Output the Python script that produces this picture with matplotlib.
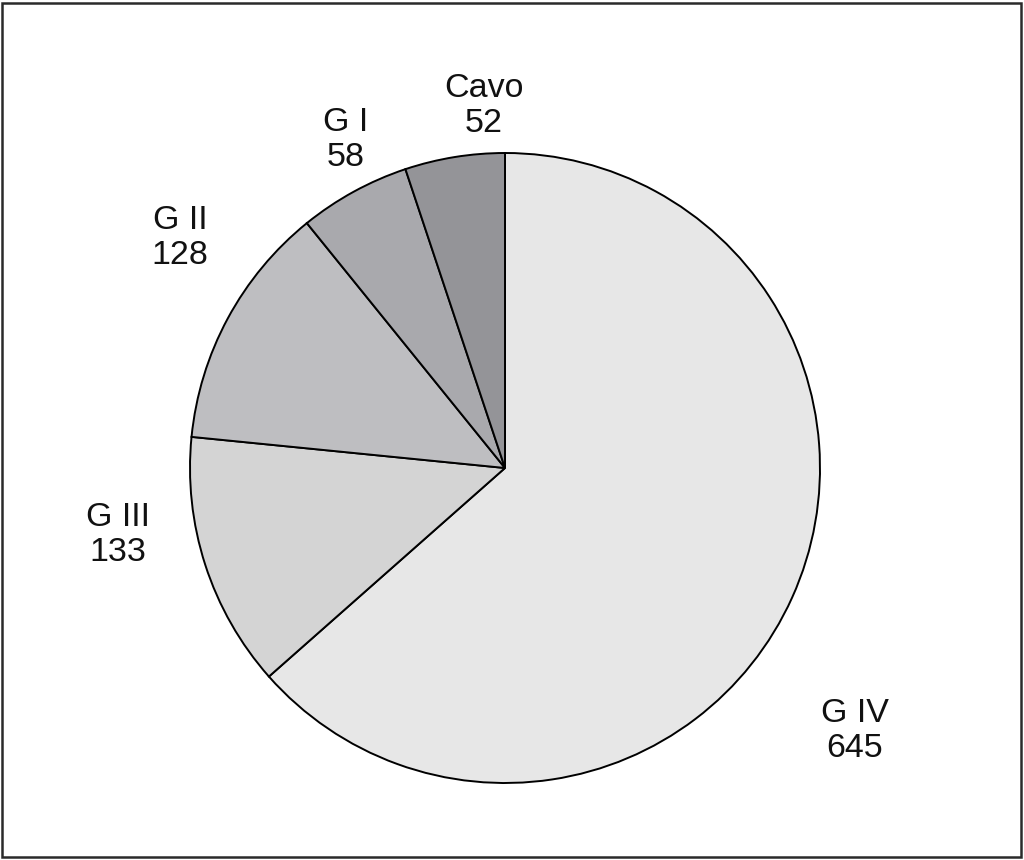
import matplotlib.pyplot as plt
from matplotlib.patches import Rectangle

labels = ['G IV', 'G III', 'G II', 'G I', 'Cavo']
values = [645, 133, 128, 58, 52]
colors = ['#e7e7e7', '#d4d4d4', '#bebec1', '#a9a9ad', '#949498']

# label centres in pixel coordinates of the 1024x860 image
label_px = [(855, 731), (118, 535), (180, 238), (346, 140), (484, 106)]

W, H = 1024, 860
cx, cy, R = 505, 468, 315

fig = plt.figure(figsize=(W / 100, H / 100), dpi=100)
ax = fig.add_axes([0, 0, 1, 1])
ax.pie(values, colors=colors, startangle=90, counterclock=False, radius=1,
       wedgeprops=dict(edgecolor='black', linewidth=1.4))
ax.set_xlim(-cx / R, (W - cx) / R)
ax.set_ylim(-(H - cy) / R, cy / R)
ax.set_aspect('equal')
ax.axis('off')

for lab, v, (px, py) in zip(labels, values, label_px):
    ax.text((px - cx) / R, (cy - py) / R, f'{lab}\n{v}', ha='center', va='center',
            fontsize=24.5, family='Liberation Sans', linespacing=1.18, color='#111111')

fig.patches.append(Rectangle((2 / W, 3 / H), 1019 / W, 854 / H, transform=fig.transFigure,
                             fill=False, edgecolor='#2a2a2a', linewidth=1.8))

fig.savefig('out.png', dpi=100)
